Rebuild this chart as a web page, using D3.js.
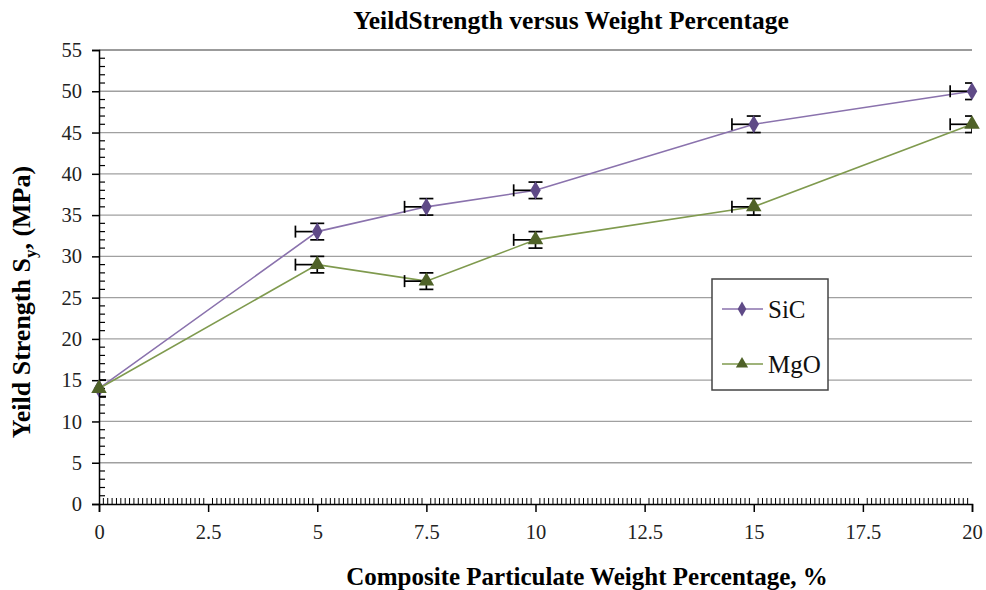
<!DOCTYPE html>
<html>
<head>
<meta charset="utf-8">
<script src="https://cdn.jsdelivr.net/npm/d3@7"></script>
<style>
  body { margin: 0; background: #fff; }
  text { font-family: "Liberation Serif", "Times New Roman", serif; }
</style>
</head>
<body>
<svg id="chart" width="986" height="590"></svg>
<script>
const weights = [0, 5, 7.5, 10, 15, 20];
const sicValues = [14, 33, 36, 38, 46, 50];
const mgoValues = [14, 29, 27, 32, 36, 46];
const yErr = 1;
const xErrMinus = 0.5;
const xTicks = [0, 2.5, 5, 7.5, 10, 12.5, 15, 17.5, 20];
const yTicks = [0, 5, 10, 15, 20, 25, 30, 35, 40, 45, 50, 55];

const series = [
    { name: 'SiC', values: sicValues, line: '#8a72ad', mark: '#5f4a87', shape: d3.symbolDiamond },
    { name: 'MgO', values: mgoValues, line: '#7f9a4e', mark: '#4f6228', shape: d3.symbolTriangle }
];

const svg = d3.select('#chart');
const plot = { left: 99, right: 972, top: 50, bottom: 504 };
const x = d3.scaleLinear().domain([0, 20]).range([plot.left, plot.right]);
const y = d3.scaleLinear().domain([0, 55]).range([plot.bottom, plot.top]);

svg.append('defs').append('clipPath').attr('id', 'plot-clip')
    .append('rect')
        .attr('x', plot.left).attr('y', plot.top - 2)
        .attr('width', plot.right - plot.left).attr('height', plot.bottom - plot.top + 4);

// gridlines
svg.append('g')
    .selectAll('line').data(yTicks.filter(d => d > 0)).join('line')
        .attr('x1', plot.left).attr('x2', plot.right)
        .attr('y1', d => y(d)).attr('y2', d => y(d))
        .attr('stroke', d => d === 55 ? '#7a7a7a' : '#a0a0a0')
        .attr('stroke-width', 1.3);

// y axis: major ticks outward, minor inward
const yAxis = svg.append('g').attr('transform', `translate(${plot.left},0)`)
    .call(d3.axisLeft(y).tickValues(yTicks).tickSize(7).tickPadding(10).tickFormat(d3.format('d')));
yAxis.select('.domain').attr('stroke', '#000').attr('stroke-width', 1.5);
yAxis.selectAll('.tick line').attr('stroke', '#000').attr('stroke-width', 1.5);
yAxis.selectAll('.tick text').attr('font-size', 20.5).attr('fill', '#222');
svg.append('g')
    .selectAll('line').data(d3.range(0, 56).filter(d => d % 5 !== 0)).join('line')
        .attr('x1', plot.left).attr('x2', plot.left + 6)
        .attr('y1', d => y(d)).attr('y2', d => y(d))
        .attr('stroke', '#000').attr('stroke-width', 1.2);

// x axis
const xAxis = svg.append('g').attr('transform', `translate(0,${plot.bottom})`)
    .call(d3.axisBottom(x).tickValues(xTicks).tickSize(8).tickPadding(12).tickFormat(d => d));
xAxis.select('.domain').attr('stroke', '#000').attr('stroke-width', 1.5);
xAxis.selectAll('.tick line').attr('stroke', '#000').attr('stroke-width', 1.5);
xAxis.selectAll('.tick text').attr('font-size', 20.5).attr('fill', '#222');
svg.append('g')
    .selectAll('line').data(d3.range(1, 200).map(i => i / 10).filter((d, i) => (i + 1) % 25 !== 0)).join('line')
        .attr('x1', d => x(d)).attr('x2', d => x(d))
        .attr('y1', plot.bottom).attr('y2', plot.bottom - 6)
        .attr('stroke', '#000').attr('stroke-width', 1);

// lines, error bars, markers
series.forEach(s => {
    const pts = weights.map((w, i) => [w, s.values[i]]);
    svg.append('path')
        .attr('d', d3.line().x(d => x(d[0])).y(d => y(d[1]))(pts))
        .attr('fill', 'none').attr('stroke', s.line).attr('stroke-width', 1.6);

    const eb = svg.append('g').attr('clip-path', 'url(#plot-clip)')
        .attr('stroke', '#000').attr('stroke-width', 1.7).attr('fill', 'none');
    pts.forEach(([w, v]) => {
        eb.append('line').attr('x1', x(w)).attr('x2', x(w)).attr('y1', y(v - yErr)).attr('y2', y(v + yErr));
        eb.append('line').attr('x1', x(w) - 7).attr('x2', x(w) + 7).attr('y1', y(v - yErr)).attr('y2', y(v - yErr));
        eb.append('line').attr('x1', x(w) - 7).attr('x2', x(w) + 7).attr('y1', y(v + yErr)).attr('y2', y(v + yErr));
        eb.append('line').attr('x1', x(w - xErrMinus)).attr('x2', x(w)).attr('y1', y(v)).attr('y2', y(v));
        eb.append('line').attr('x1', x(w - xErrMinus)).attr('x2', x(w - xErrMinus)).attr('y1', y(v) - 6).attr('y2', y(v) + 6);
    });

    svg.append('g').selectAll('path').data(pts).join('path')
        .attr('transform', d => `translate(${x(d[0])},${y(d[1])})`)
        .attr('d', d3.symbol(s.shape, s.shape === d3.symbolDiamond ? 95 : 105))
        .attr('fill', s.mark);
});

// legend
const legend = svg.append('g').attr('transform', 'translate(712,279)');
legend.append('rect')
    .attr('width', 116).attr('height', 111)
    .attr('fill', '#fff').attr('stroke', '#444').attr('stroke-width', 1.5);
const entry = legend.selectAll('g').data(series).join('g')
    .attr('transform', (d, i) => `translate(0,${30 + i * 55})`);
entry.append('line').attr('x1', 10).attr('x2', 51)
    .attr('stroke', d => d.line).attr('stroke-width', 1.6);
entry.append('path').attr('transform', 'translate(30,0)')
    .attr('d', d => d3.symbol(d.shape, 65)())
    .attr('fill', d => d.mark);
entry.append('text').attr('x', 56).attr('dy', '0.35em')
    .attr('font-size', 25).attr('fill', '#111').text(d => d.name);

// titles
svg.append('text').attr('x', 571).attr('y', 29).attr('text-anchor', 'middle')
    .attr('font-size', 25.5).attr('font-weight', 'bold').text('YeildStrength versus Weight Percentage');
svg.append('text').attr('x', 587).attr('y', 585).attr('text-anchor', 'middle')
    .attr('font-size', 25).attr('font-weight', 'bold').text('Composite Particulate Weight Percentage, %');
const yl = svg.append('text').attr('transform', 'translate(30,302) rotate(-90)').attr('text-anchor', 'middle')
    .attr('font-size', 26).attr('font-weight', 'bold');
yl.append('tspan').text('Yeild Strength S');
yl.append('tspan').attr('font-size', 17).attr('dy', 6).text('y');
yl.append('tspan').attr('dy', -6).text(', (MPa)');
</script>
</body>
</html>
